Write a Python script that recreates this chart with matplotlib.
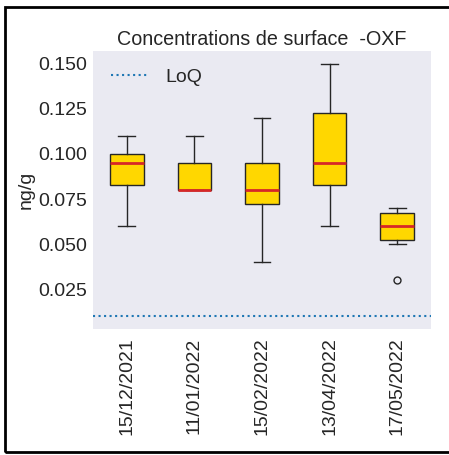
import matplotlib
matplotlib.use("Agg")
import matplotlib.pyplot as plt
from matplotlib.patches import Rectangle

dates = ["15/12/2021", "11/01/2022", "15/02/2022", "13/04/2022", "17/05/2022"]
q1 = [0.0825, 0.080, 0.0725, 0.0825, 0.0525]
med = [0.095, 0.080, 0.080, 0.095, 0.060]
q3 = [0.100, 0.095, 0.095, 0.1225, 0.0675]
whislo = [0.060, 0.080, 0.040, 0.060, 0.050]
whishi = [0.110, 0.110, 0.120, 0.150, 0.070]
fliers = [[], [], [], [], [0.030]]
loq = 0.01

plt.rcParams['font.family'] = ['Liberation Sans', 'DejaVu Sans']
fig = plt.figure(figsize=(4.49, 4.55), dpi=100)
ax = fig.add_axes([93/449, 1-329/455, (431-93)/449, (329-51)/455])
ax.set_facecolor('#EAEAF2')
for s in ax.spines.values():
    s.set_visible(False)

stats = []
for i in range(len(dates)):
    stats.append(dict(med=med[i], q1=q1[i], q3=q3[i], whislo=whislo[i],
                      whishi=whishi[i], fliers=fliers[i], label=dates[i]))
ax.bxp(stats, positions=range(1, len(dates)+1), widths=0.5, patch_artist=True,
       boxprops=dict(facecolor='#FFD700', edgecolor='#262626', linewidth=1.0),
       medianprops=dict(color='#D62728', linewidth=2.0),
       whiskerprops=dict(color='#262626', linewidth=1.0),
       capprops=dict(color='#262626', linewidth=1.0),
       flierprops=dict(marker='o', markerfacecolor='none', markeredgecolor='#262626', markersize=5))
ax.axhline(loq, color='#1f77b4', linestyle=':', linewidth=1.5, label='LoQ')
ax.autoscale(axis='y')
ax.set_xlim(0.5, len(dates)+0.5)
ax.set_yticks([0.025, 0.050, 0.075, 0.100, 0.125, 0.150])
ax.set_yticklabels(['0.025', '0.050', '0.075', '0.100', '0.125', '0.150'])
ax.tick_params(axis='both', length=0, labelsize=14, colors='#262626')
ax.tick_params(axis='y', pad=4)
ax.tick_params(axis='x', labelrotation=90, pad=6)
ax.set_ylabel('ng/g', fontsize=14, color='#262626', labelpad=3)
ax.set_title('Concentrations de surface  -OXF', fontsize=14.2, color='#262626', pad=4.5)
leg = ax.legend(loc='upper left', frameon=False, fontsize=14, handlelength=2.0)
for t in leg.get_texts():
    t.set_color('#262626')

fig.patches.append(Rectangle((5/449, 1-452/455), 1.2, (452-7)/455, transform=fig.transFigure,
                             fill=False, edgecolor='black', linewidth=2, clip_on=False))
fig.savefig('out.png', dpi=100)
